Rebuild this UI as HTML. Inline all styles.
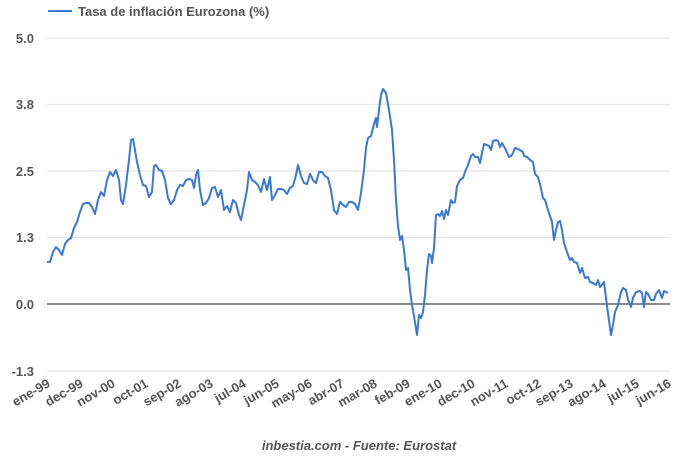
<!DOCTYPE html>
<html><head><meta charset="utf-8"><style>
body{margin:0;background:#fff;}
svg{display:block;font-family:"Liberation Sans",sans-serif;}
</style></head><body>
<svg width="680" height="460" viewBox="0 0 680 460">
<line x1="48" y1="11" x2="72" y2="11" stroke="#3a78d8" stroke-width="2"/>
<text x="78" y="16" font-size="13" font-weight="bold" fill="#555">Tasa de inflación Eurozona (%)</text>
<g stroke="#e3e3e3" stroke-width="1.3">
<line x1="47" y1="38" x2="670" y2="38"/><line x1="47" y1="104.5" x2="670" y2="104.5"/>
<line x1="47" y1="171" x2="670" y2="171"/><line x1="47" y1="237.5" x2="670" y2="237.5"/>
<line x1="47" y1="371" x2="670" y2="371"/>
</g>
<line x1="47" y1="304" x2="670" y2="304" stroke="#444" stroke-width="1.2"/>
<g font-size="13" font-weight="bold" fill="#555" text-anchor="end">
<text x="34" y="43">5.0</text><text x="34" y="109">3.8</text><text x="34" y="176">2.5</text>
<text x="34" y="242">1.3</text><text x="34" y="309">0.0</text><text x="34" y="376">-1.3</text>
</g>
<polyline fill="none" stroke="#3a78d8" stroke-width="2" stroke-linejoin="round" points="47,262 50,262 53,252 56,247 59,250 62,255 65,244 68,240 71,238 74,228 77,222 80,212 83,204 86,203 89,203 92,207 95,214 98,200 101,192 104,196 107,180 110,172 113,176 116,170 119,180 121,200 123,204 126,185 129,160 131,140 133,139 135,150 137,162 140,175 143,185 146,186 149,197 152,192 154,166 156,165 159,170 162,171 165,180 168,198 171,204 174,200 177,190 180,185 183,186 186,180 189,179 192,180 194,188 196,175 198,170 200,190 203,205 206,203 209,198 212,188 215,187 218,197 221,190 224,210 227,206 230,212 233,200 236,203 239,215 241,220 244,205 247,190 249,172 252,180 255,182 258,185 261,192 264,179 267,190 270,177 272,200 275,195 278,189 281,189 284,190 287,194 290,188 293,186 296,175 298,165 301,176 304,183 307,184 310,174 313,180 316,183 319,172 322,172 325,176 328,178 331,190 334,210 337,214 340,202 343,205 346,207 349,202 352,202 355,204 358,210 361,193 364,170 366,148 368,138 371,136 374,124 376,118 377,127 379,110 381,95 383,89 386,93 389,110 392,130 394,160 396,200 398,226 400,240 402,236 404,250 406,270 408,268 410,290 412,305 414,316 417,335 419,315 421,318 423,312 425,295 427,270 429,254 431,256 432,263 434,248 436,215 438,214 440,216 442,211 444,219 446,210 448,215 451,200 453,203 455,202 457,186 460,180 463,178 465,172 468,165 471,156 473,154 475,157 478,157 480,163 482,153 484,144 487,145 489,146 491,150 493,141 496,140 498,141 500,147 502,143 506,150 509,157 511,156 513,153 515,148 518,149 520,150 523,152 524,156 527,157 530,160 533,162 535,174 538,177 540,184 543,198 545,200 548,210 552,222 554,240 556,230 558,222 560,221 562,230 564,243 567,252 570,260 572,258 574,262 577,263 580,273 582,268 585,278 588,277 590,282 593,283 596,285 598,280 600,287 604,282 607,306 611,335 613,325 615,312 618,305 621,292 623,288 626,290 628,300 631,307 633,298 636,292 640,291 642,293 644,307 646,292 648,294 651,300 654,300 656,294 659,290 662,298 664,291 668,293"/>
<g font-size="13" font-weight="bold" fill="#555" text-anchor="end">
<text transform="translate(51,386) rotate(-30)">ene-99</text>
<text transform="translate(84,386) rotate(-30)">dec-99</text>
<text transform="translate(116,386) rotate(-30)">nov-00</text>
<text transform="translate(149,386) rotate(-30)">oct-01</text>
<text transform="translate(182,386) rotate(-30)">sep-02</text>
<text transform="translate(214,386) rotate(-30)">ago-03</text>
<text transform="translate(247,386) rotate(-30)">jul-04</text>
<text transform="translate(280,386) rotate(-30)">jun-05</text>
<text transform="translate(313,386) rotate(-30)">may-06</text>
<text transform="translate(345,386) rotate(-30)">abr-07</text>
<text transform="translate(378,386) rotate(-30)">mar-08</text>
<text transform="translate(411,386) rotate(-30)">feb-09</text>
<text transform="translate(443,386) rotate(-30)">ene-10</text>
<text transform="translate(476,386) rotate(-30)">dec-10</text>
<text transform="translate(509,386) rotate(-30)">nov-11</text>
<text transform="translate(542,386) rotate(-30)">oct-12</text>
<text transform="translate(574,386) rotate(-30)">sep-13</text>
<text transform="translate(607,386) rotate(-30)">ago-14</text>
<text transform="translate(640,386) rotate(-30)">jul-15</text>
<text transform="translate(672,386) rotate(-30)">jun-16</text>
</g>
<text x="359" y="450" font-size="13" font-weight="bold" font-style="italic" fill="#555" text-anchor="middle">inbestia.com - Fuente: Eurostat</text>
</svg>
</body></html>
